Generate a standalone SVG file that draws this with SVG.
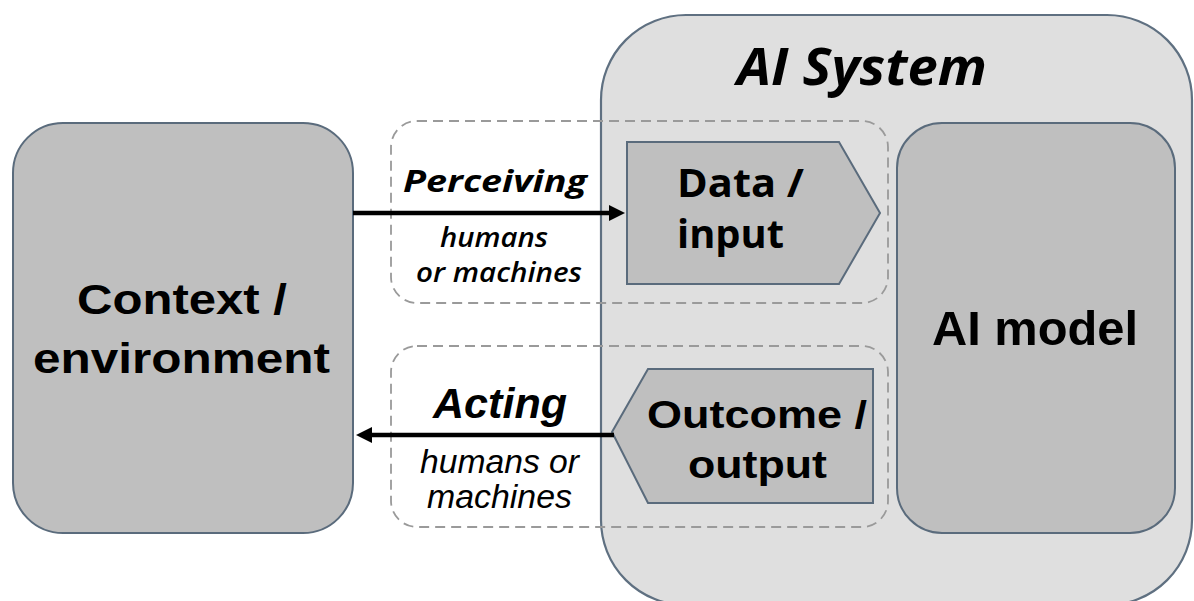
<svg xmlns="http://www.w3.org/2000/svg" width="1194" height="601" viewBox="0 0 1194 601">
<defs>
<style>
.box{fill:#bfbfbf;stroke:#5a6b7c;stroke-width:2}
.sys{fill:#dfdfdf;stroke:#5f7081;stroke-width:2.2}
.dash{fill:none;stroke:#9a9a9a;stroke-width:1.8;stroke-dasharray:10 6}
.conn{stroke:#000;stroke-width:4.5;fill:none}
.ar{font-family:"Liberation Sans",Arial,sans-serif;fill:#000}
.os{font-family:"Open Sans","Liberation Sans",sans-serif;fill:#000}
.b{font-weight:bold}
.i{font-style:italic}
</style>
<marker id="ah" markerUnits="userSpaceOnUse" markerWidth="16" markerHeight="16" refX="2" refY="8" orient="auto">
<path d="M0,0 L16,8 L0,16 z" fill="#000"/>
</marker>
</defs>
<rect width="1194" height="601" fill="#fff"/>
<g id="ai-system">
<rect class="sys" x="601" y="15" width="591" height="590" rx="85" ry="85"/>
<text class="os b i" x="862" y="85" font-size="52" text-anchor="middle" textLength="250" lengthAdjust="spacingAndGlyphs">AI System</text>
</g>
<g id="perceiving-group">
<rect class="dash" x="391" y="121" width="497" height="182" rx="26" ry="26"/>
<text class="os b i" x="495" y="192" font-size="31" text-anchor="middle" textLength="184" lengthAdjust="spacingAndGlyphs">Perceiving</text>
<text class="os i" x="494" y="247" font-size="27" text-anchor="middle" textLength="108" lengthAdjust="spacingAndGlyphs" fill="#222" font-weight="600">humans</text>
<text class="os i" x="499" y="282" font-size="27" text-anchor="middle" textLength="166" lengthAdjust="spacingAndGlyphs" fill="#222" font-weight="600">or machines</text>
</g>
<g id="acting-group">
<rect class="dash" x="391" y="346" width="497" height="181" rx="26" ry="26"/>
<text class="ar b i" x="500" y="418" font-size="42" text-anchor="middle" textLength="134" lengthAdjust="spacingAndGlyphs">Acting</text>
<text class="ar i" x="499.5" y="473" font-size="33" text-anchor="middle" textLength="159" lengthAdjust="spacingAndGlyphs" fill="#222">humans or</text>
<text class="ar i" x="499.5" y="508" font-size="33" text-anchor="middle" textLength="145" lengthAdjust="spacingAndGlyphs" fill="#222">machines</text>
</g>
<g id="context">
<rect class="box" x="13" y="123" width="340" height="410" rx="50" ry="50"/>
<text class="ar b" x="182" y="314" font-size="43" text-anchor="middle" textLength="210" lengthAdjust="spacingAndGlyphs">Context /</text>
<text class="ar b" x="181.5" y="373" font-size="43" text-anchor="middle" textLength="297" lengthAdjust="spacingAndGlyphs">environment</text>
</g>
<g id="ai-model">
<rect class="box" x="897" y="123" width="278" height="410" rx="45" ry="45"/>
<text class="ar b" x="1035" y="345" font-size="48" text-anchor="middle" textLength="206" lengthAdjust="spacingAndGlyphs">AI model</text>
</g>
<g id="data-input">
<polygon class="box" points="627,142 839,142 880,213 839,284 627,284"/>
<text class="os b" x="677" y="197" font-size="39" textLength="127" lengthAdjust="spacingAndGlyphs">Data /</text>
<text class="os b" x="677" y="248" font-size="39" textLength="107" lengthAdjust="spacingAndGlyphs">input</text>
</g>
<g id="outcome-output">
<polygon class="box" points="612,432 648,369 873,369 873,503 648,503"/>
<text class="ar b" x="647" y="428" font-size="38" textLength="220" lengthAdjust="spacingAndGlyphs">Outcome /</text>
<text class="ar b" x="688" y="478" font-size="38" textLength="139" lengthAdjust="spacingAndGlyphs">output</text>
</g>
<g id="connectors">
<line class="conn" x1="353" y1="213" x2="611" y2="213" marker-end="url(#ah)"/>
<line class="conn" x1="614" y1="435" x2="370" y2="435" marker-end="url(#ah)"/>
</g>
</svg>
